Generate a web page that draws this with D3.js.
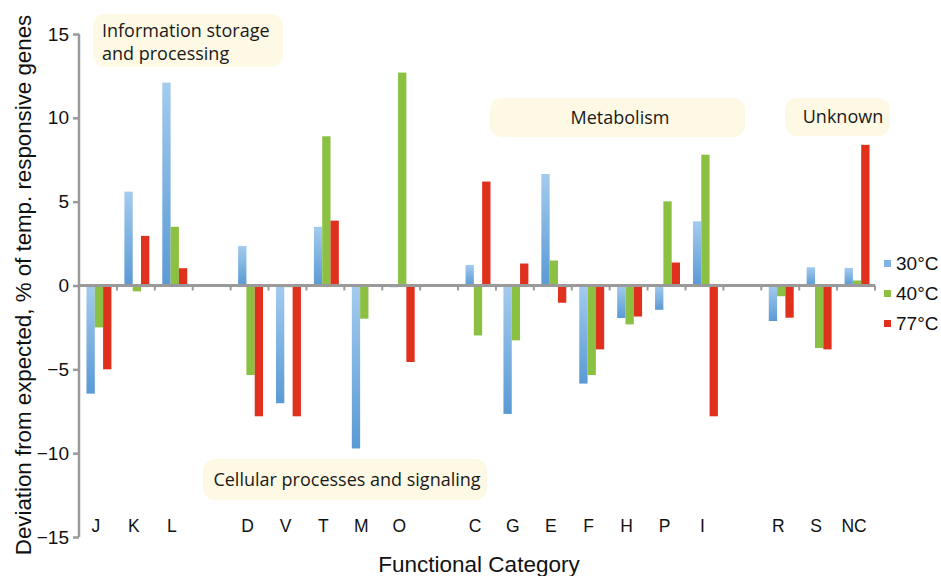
<!DOCTYPE html>
<html>
<head>
<meta charset="utf-8">
<script src="https://cdn.jsdelivr.net/npm/d3@7"></script>
<style>
  body { margin: 0; background: #fff; }
  text { font-family: "Liberation Sans", Arial, sans-serif; }
  .note { font-family: "Open Sans", "Noto Sans", sans-serif; }
</style>
</head>
<body>
<svg id="chart" width="941" height="576"></svg>
<script>
// slots, empty strings are the gaps between groups
const categories = ["J","K","L","","D","V","T","M","O","","C","G","E","F","H","P","I","","R","S","NC"];
const series = ["30°C", "40°C", "77°C"];
const v30 = [-6.45, 5.6, 12.1, null, 2.36, -7.02, 3.5, -9.72, -0.1, null, 1.23, -7.66, 6.65, -5.85, -1.94, -1.45, 3.83, null, -2.12, 1.09, 1.05];
const v40 = [-2.5, -0.35, 3.5, null, -5.34, -0.1, 8.9, -1.98, 12.7, null, -2.98, -3.27, 1.49, -5.34, -2.32, 5.02, 7.8, null, -0.64, -3.73, 0.3];
const v77 = [-5.0, 2.96, 1.03, null, -7.8, -7.8, 3.87, 0, -4.56, null, 6.2, 1.31, -1.03, -3.81, -1.85, 1.37, -7.8, null, -1.92, -3.81, 8.39];
const yTicks = [15, 10, 5, 0, -5, -10, -15];
const notes = [
  {lines: ["Information storage", "and processing"], box: [93, 14, 283, 67], tx: 102},
  {lines: ["Metabolism"], box: [490, 98, 745, 137], tx: 620},
  {lines: ["Unknown"], box: [785, 98, 890, 136], tx: 843},
  {lines: ["Cellular processes and signaling"], box: [203, 459, 487, 500], tx: 347}
];

const svg = d3.select("#chart");
const x0 = 79, x1 = 875, yTop = 34, yBot = 537;

const x = d3.scaleBand().domain(d3.range(categories.length)).range([x0, x1]);
const xs = d3.scaleBand().domain(series).range([1, x.bandwidth() + 1]).paddingInner(0).paddingOuter(0.78);
const y = d3.scaleLinear().domain([-15, 15]).range([yBot, yTop]);
const colors = ["url(#blueGrad)", "#8bc043", "#e0301e"];
const legendColors = ["#7fb3e3", "#8bc043", "#e0301e"];

const defs = svg.append("defs");
const grad = defs.append("linearGradient").attr("id", "blueGrad")
  .attr("x1", 0).attr("y1", 0).attr("x2", 0).attr("y2", 1);
grad.append("stop").attr("offset", "0%").attr("stop-color", "#a3cbee");
grad.append("stop").attr("offset", "100%").attr("stop-color", "#5a9ad4");

// annotation boxes
notes.forEach(n => {
  const [bx0, by0, bx1, by1] = n.box;
  svg.append("rect").attr("x", bx0).attr("y", by0).attr("width", bx1 - bx0).attr("height", by1 - by0)
    .attr("rx", 12).attr("fill", "#fdf9e4");
  const lh = 23;
  const multi = n.lines.length > 1;
  n.lines.forEach((l, i) => {
    svg.append("text").attr("class", "note")
      .attr("x", n.tx)
      .attr("y", (by0 + by1) / 2 + (multi ? 8 : 6) - (n.lines.length - 1) * lh / 2 + i * lh)
      .attr("text-anchor", multi ? "start" : "middle")
      .attr("font-size", 18).attr("fill", "#1a1a1a").text(l);
  });
});

// bars
const data = [v30, v40, v77];
categories.forEach((c, i) => {
  data.forEach((vals, s) => {
    const v = vals[i];
    if (v == null || v === 0) return;
    svg.append("rect")
      .attr("x", x(i) + xs(series[s]))
      .attr("width", xs.bandwidth())
      .attr("y", y(Math.max(0, v)))
      .attr("height", Math.abs(y(v) - y(0)))
      .attr("fill", colors[s]);
  });
});

// y axis
const yAxis = d3.axisLeft(y).tickValues(yTicks).tickSize(6).tickPadding(4).tickFormat(d3.format("d"));
const gy = svg.append("g").attr("transform", `translate(${x0},0)`).call(yAxis);
gy.select(".domain").attr("stroke", "#9a9a9a").attr("stroke-width", 2.5).attr("d", `M0,${yTop}V${yBot}`);
gy.selectAll(".tick line").attr("stroke", "#9a9a9a").attr("stroke-width", 2.5);
gy.selectAll(".tick text").attr("font-size", 19).attr("fill", "#111").attr("font-family", "Liberation Sans, Arial, sans-serif");

// zero line with ticks at slot boundaries
const gx = svg.append("g");
gx.append("line").attr("x1", x0).attr("x2", x1).attr("y1", y(0)).attr("y2", y(0))
  .attr("stroke", "#9a9a9a").attr("stroke-width", 3);
d3.range(1, categories.length + 1).forEach(k => {
  const px = k < categories.length ? x(k) : x1;
  gx.append("line").attr("x1", px).attr("x2", px).attr("y1", y(0)).attr("y2", y(0) + 5)
    .attr("stroke", "#9a9a9a").attr("stroke-width", 2);
});

// category labels
categories.forEach((c, i) => {
  if (!c) return;
  svg.append("text").attr("x", x(i) + x.bandwidth() / 2 - 2).attr("y", 532)
    .attr("text-anchor", "middle").attr("font-size", 17.5).attr("fill", "#111").text(c);
});

// axis titles
svg.append("text").attr("x", 479).attr("y", 572).attr("text-anchor", "middle")
  .attr("font-size", 22.5).attr("fill", "#111").text("Functional Category");
svg.append("text").attr("transform", "translate(31,285) rotate(-90)").attr("text-anchor", "middle")
  .attr("font-size", 22.3).attr("fill", "#111").text("Deviation from expected, % of temp. responsive genes");

// legend
series.forEach((s, i) => {
  const ly = 263 + i * 30;
  svg.append("rect").attr("x", 884).attr("y", ly - 3).attr("width", 7).attr("height", 7).attr("fill", legendColors[i]);
  svg.append("text").attr("x", 896).attr("y", ly + 7).attr("font-size", 19).attr("fill", "#111").text(s);
});
</script>
</body>
</html>
